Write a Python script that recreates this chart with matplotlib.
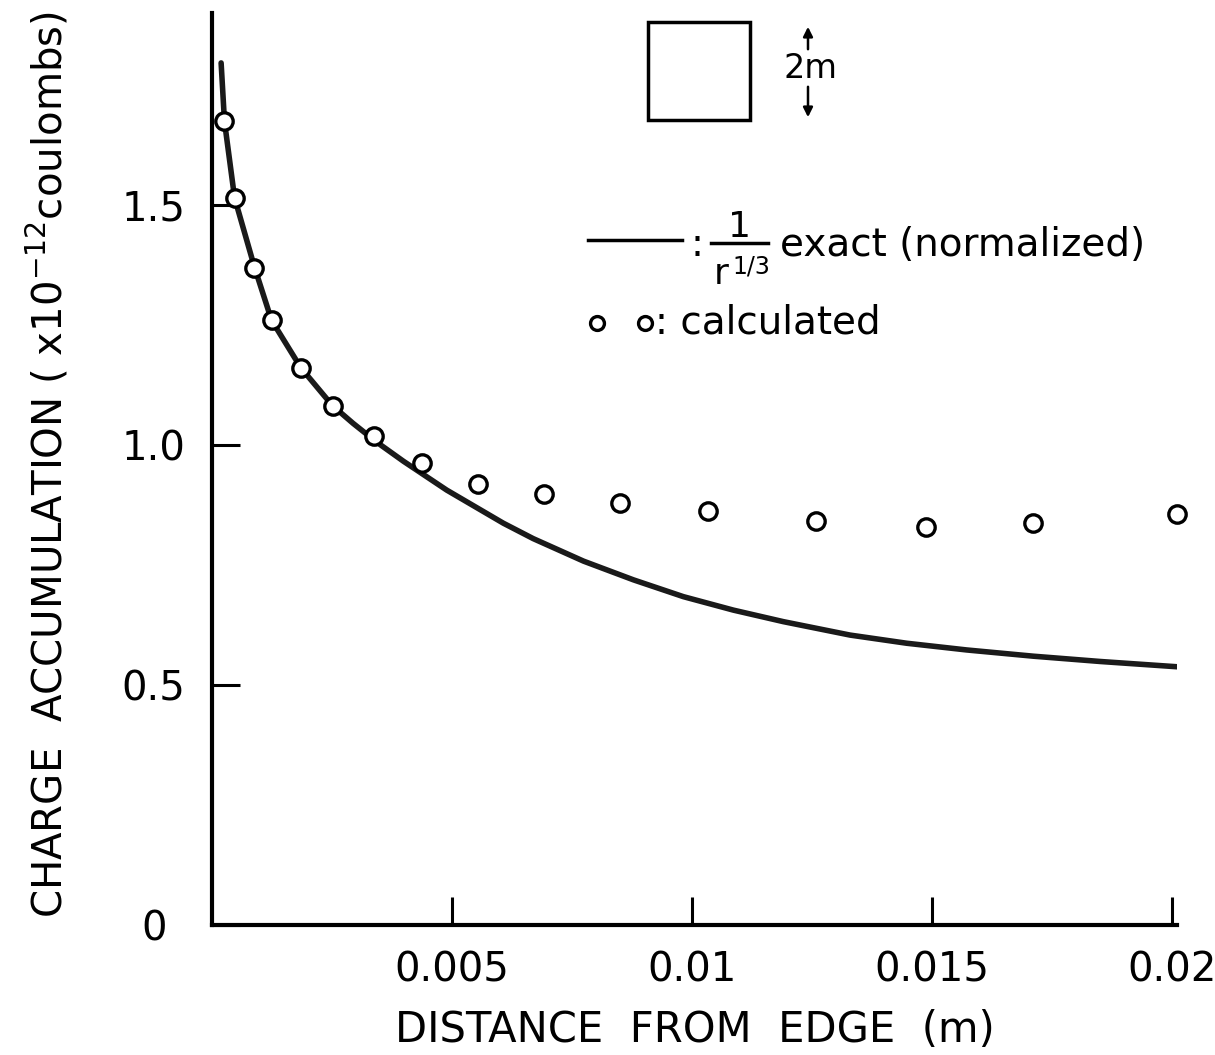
import matplotlib
matplotlib.use("Agg")
import matplotlib.pyplot as plt
from matplotlib.lines import Line2D
from matplotlib.patches import Rectangle

plt.rcParams["font.family"] = ["DejaVu Sans"]
plt.rcParams["mathtext.default"] = "regular"

# calculated charge accumulation (open circles)
calc_x = [0.00026, 0.00047, 0.00088, 0.00124, 0.00185, 0.00251, 0.00338, 0.00437,
          0.00555, 0.00692, 0.0085, 0.01034, 0.01258, 0.01488, 0.01711, 0.02011]
calc_y = [1.674, 1.515, 1.368, 1.260, 1.161, 1.082, 1.019, 0.962,
          0.918, 0.898, 0.879, 0.862, 0.842, 0.830, 0.837, 0.856]

# exact 1/r^(1/3) curve (normalized)
exact_x = [0.00019, 0.00026, 0.00047, 0.00088, 0.00124, 0.00185, 0.00251, 0.00294,
           0.00343, 0.00399, 0.00489, 0.00607, 0.00669, 0.00774, 0.00878, 0.00982,
           0.01086, 0.01190, 0.01329, 0.01447, 0.01572, 0.01711, 0.01850, 0.02010]
exact_y = [1.796, 1.674, 1.515, 1.372, 1.260, 1.161, 1.082, 1.045,
           1.006, 0.966, 0.906, 0.837, 0.805, 0.758, 0.719, 0.684,
           0.656, 0.632, 0.604, 0.587, 0.573, 0.560, 0.549, 0.538]

x_ticks = [0.005, 0.01, 0.015, 0.02]
x_tick_labels = ["0.005", "0.01", "0.015", "0.02"]
y_ticks = [0, 0.5, 1.0, 1.5]
y_tick_labels = ["0", "0.5", "1.0", "1.5"]

W, H = 1215, 1055


def fp(x, y):
    # image pixel (from top-left) -> figure fraction
    return x / W, 1 - y / H


fig = plt.figure(figsize=(W / 100, H / 100), dpi=100)
ax = fig.add_axes([212 / W, 1 - 925 / H, 965 / W, 912 / H])

ax.plot(exact_x, exact_y, color="#1a1a1a", lw=4, solid_capstyle="round", zorder=2)
ax.plot(calc_x, calc_y, "o", ms=12.5, mfc="white", mec="black", mew=2.4,
        clip_on=False, zorder=3)

ax.set_xlim(0, 0.0201)
ax.set_ylim(0, 1.9)
for side in ("top", "right"):
    ax.spines[side].set_visible(False)
for side in ("left", "bottom"):
    ax.spines[side].set_linewidth(3)

ax.set_xticks(x_ticks)
ax.set_xticklabels(x_tick_labels)
ax.set_yticks(y_ticks)
ax.set_yticklabels(y_tick_labels, ha="center")
ax.tick_params(axis="x", direction="in", length=20, width=2.2, pad=18, labelsize=29)
ax.tick_params(axis="y", direction="in", length=20, width=2.2, pad=42, labelsize=29)

ax.set_xlabel("DISTANCE  FROM  EDGE  (m)", fontsize=30, labelpad=14)
fig.text(*fp(48, 465), r"CHARGE  ACCUMULATION ( x10$^{-12}$coulombs)",
         rotation=90, ha="center", va="center", fontsize=29)

# geometry sketch: 2m square plate
x0, y0 = fp(648, 120)
x1, y1 = fp(750, 22)
fig.add_artist(Rectangle((x0, y0), x1 - x0, y1 - y0, transform=fig.transFigure,
                         fill=False, lw=2.5, ec="black"))
ax.annotate("", xy=fp(808, 24), xytext=fp(808, 52), xycoords="figure fraction",
            arrowprops=dict(arrowstyle="-|>", lw=1.8, color="black", mutation_scale=14))
ax.annotate("", xy=fp(808, 120), xytext=fp(808, 84), xycoords="figure fraction",
            arrowprops=dict(arrowstyle="-|>", lw=1.8, color="black", mutation_scale=14))
fig.text(*fp(811, 68), "2m", ha="center", va="center", fontsize=24)

# legend drawn by hand
lx0, ly = fp(588, 240)
lx1, _ = fp(682, 240)
fig.add_artist(Line2D([lx0, lx1], [ly, ly], transform=fig.transFigure, color="black", lw=2.5))
fig.text(*fp(697, 245), ":", ha="center", va="center", fontsize=28)
fx0, fy = fp(711, 243)
fx1, _ = fp(768, 243)
fig.add_artist(Line2D([fx0, fx1], [fy, fy], transform=fig.transFigure, color="black", lw=2.5))
fig.text(*fp(740, 237), "1", ha="center", va="baseline", fontsize=26)
fig.text(*fp(729, 284), "r", ha="right", va="baseline", fontsize=26)
fig.text(*fp(732, 273), "1/3", ha="left", va="baseline", fontsize=17)
fig.text(*fp(780, 245), "exact (normalized)", ha="left", va="center", fontsize=28)
for px in (597, 645):
    fig.add_artist(Line2D([fp(px, 0)[0]], [fp(0, 323)[1]], transform=fig.transFigure,
                          marker="o", ms=10, mfc="white", mec="black", mew=2.4))
fig.text(*fp(655, 322), ": calculated", ha="left", va="center", fontsize=28)

fig.savefig("out.png", dpi=100)
